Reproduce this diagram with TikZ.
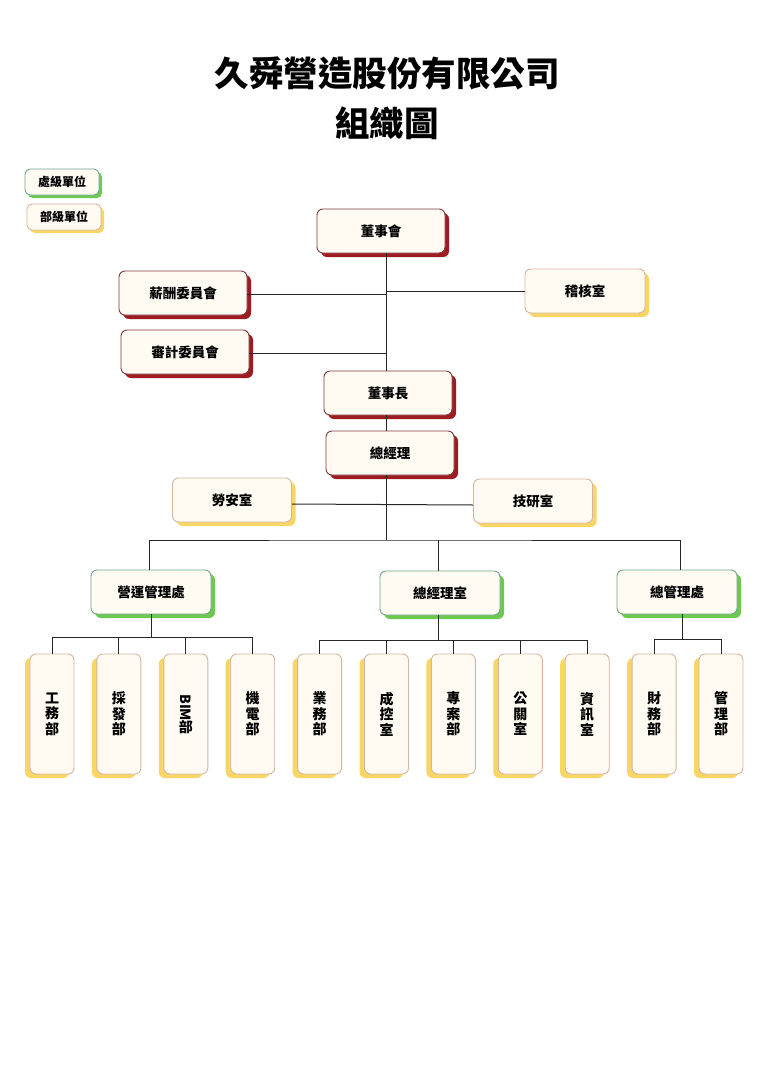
\documentclass[tikz,border=0pt]{standalone}
\usepackage{fontspec}
\usepackage{graphicx}
\setmainfont{Noto Sans CJK TC}
\usetikzlibrary{positioning}
\usetikzlibrary{shadows}

\definecolor{boardred}{HTML}{9E1B22}
\definecolor{boardline}{HTML}{7E3B3D}
\definecolor{divgreen}{HTML}{6CC84E}
\definecolor{divline}{HTML}{6FA68E}
\definecolor{deptyellow}{HTML}{F8D665}
\definecolor{deptline}{HTML}{D6B59E}
\definecolor{boxfill}{HTML}{FFFBF3}

\tikzset{
  unit/.style={rectangle, rounded corners=6pt, fill=boxfill, line width=0.9pt, minimum width=128pt, minimum height=44pt, font=\fontsize{13.5}{15}\selectfont\bfseries},
  board/.style={unit, draw=boardline, drop shadow={shadow xshift=4pt, shadow yshift=-4pt, fill=boardred, opacity=1}},
  division/.style={unit, draw=divline, minimum width=120pt, drop shadow={shadow xshift=4pt, shadow yshift=-4pt, fill=divgreen, opacity=1}},
  office/.style={unit, draw=deptline, minimum width=119pt, drop shadow={shadow xshift=4pt, shadow yshift=-4pt, fill=deptyellow, opacity=1}},
  dept/.style={unit, draw=deptline, minimum width=44pt, minimum height=120pt, align=center, font=\fontsize{14}{15.5}\selectfont\bfseries, drop shadow={shadow xshift=-5pt, shadow yshift=-4pt, fill=deptyellow, opacity=1}},
  key/.style={unit, minimum width=74pt, minimum height=26pt, rounded corners=5pt, font=\fontsize{12}{14}\selectfont\bfseries},
  link/.style={line width=1pt, black!85}
}

\begin{document}
\begin{tikzpicture}[x=1pt, y=-1pt]

    \useasboundingbox[fill=white] (0,0) rectangle (763,1079);

    % Title
    \node[font=\fontsize{34.5}{40}\selectfont\bfseries] (title) at (387,73) {久舜營造股份有限公司};
    \node[font=\fontsize{34.5}{40}\selectfont\bfseries] (subtitle) at (387,123) {組織圖};

    % Legend
    \node[key, draw=divline, drop shadow={shadow xshift=3pt, shadow yshift=-3pt, fill=divgreen, opacity=1}] (keydiv) at (62,182) {處級單位};
    \node[key, draw=deptline, drop shadow={shadow xshift=3pt, shadow yshift=-3pt, fill=deptyellow, opacity=1}] (keydept) at (64,217) {部級單位};

    % Board level
    \coordinate (trunk) at (386,0);
    \node[board] (board) at (381,231) {董事會};
    \node[board] (comp) at (183,293) {薪酬委員會};
    \node[board] (audit) at (185,352) {審計委員會};
    \node[office, minimum width=120pt] (internal) at (585,291) {稽核室};
    \node[board] (chair) at (388,393) {董事長};
    \node[board] (gm) at (390,453) {總經理};
    \node[office] (safety) at (232,500) {勞安室};
    \node[office] (research) at (533,501) {技研室};

    % Divisions
    \node[division] (ops) at (151,592) {營運管理處};
    \node[division] (gmo) at (440,593) {總經理室};
    \node[division] (admin) at (677,592) {總管理處};

    % Departments
    \node[dept] (works) at (52,714) {工\\務\\部};
    \node[dept, right=22pt of works] (purchase) {採\\發\\部};
    \node[dept, right=22pt of purchase] (bim) {\rotatebox[origin=c]{-90}{BIM}\\[-2pt]部};
    \node[dept, right=22pt of bim] (mep) {機\\電\\部};
    \node[dept, right=22pt of mep] (sales) {業\\務\\部};
    \node[dept, right=22pt of sales] (cost) {成\\控\\室};
    \node[dept, right=22pt of cost] (project) {專\\案\\部};
    \node[dept, right=22pt of project] (pr) {公\\關\\室};
    \node[dept, right=22pt of pr] (it) {資\\訊\\室};
    \node[dept, right=22pt of it] (finance) {財\\務\\部};
    \node[dept, right=22pt of finance] (manage) {管\\理\\部};

    % Lines
    \draw[link] (board.south -| trunk) -- (chair.north -| trunk);
    \draw[link] (chair.south -| trunk) -- (gm.north -| trunk);
    \draw[link] ([yshift=-1pt]comp.east) -- ([yshift=-1pt]comp.east -| trunk);
    \draw[link] ([yshift=-1pt]audit.east) -- ([yshift=-1pt]audit.east -| trunk);
    \draw[link] (internal.west) -- (internal.west -| trunk);
    \draw[link] ([yshift=-4pt]safety.east) -- ([yshift=-4pt]research.west);

    \coordinate (bus) at (386,540);
    \draw[link] (gm.south -| trunk) -- (bus);
    \draw[link] ([xshift=-2pt]ops.north) |- (bus) -| ([xshift=3pt]admin.north);
    \draw[link] ([xshift=-2pt]gmo.north) -- ([xshift=-2pt]gmo.north |- bus);

    \coordinate (opsbus) at (0,637);
    \coordinate (gmobus) at (0,640);
    \coordinate (adminbus) at (0,639);
    \draw[link] (ops.south) -- (ops.south |- opsbus);
    \draw[link] (works.north |- opsbus) -- (mep.north |- opsbus);
    \foreach \d in {works,purchase,bim,mep}
      \draw[link] (\d.north) -- (\d.north |- opsbus);
    \draw[link] ([xshift=-2pt]gmo.south) -- ([xshift=-2pt]gmo.south |- gmobus);
    \draw[link] (sales.north |- gmobus) -- (it.north |- gmobus);
    \foreach \d in {sales,cost,project,pr,it}
      \draw[link] (\d.north) -- (\d.north |- gmobus);
    \draw[link] ([xshift=5pt]admin.south) -- ([xshift=5pt]admin.south |- adminbus);
    \draw[link] (finance.north |- adminbus) -- (manage.north |- adminbus);
    \foreach \d in {finance,manage}
      \draw[link] (\d.north) -- (\d.north |- adminbus);

\end{tikzpicture}
\end{document}
